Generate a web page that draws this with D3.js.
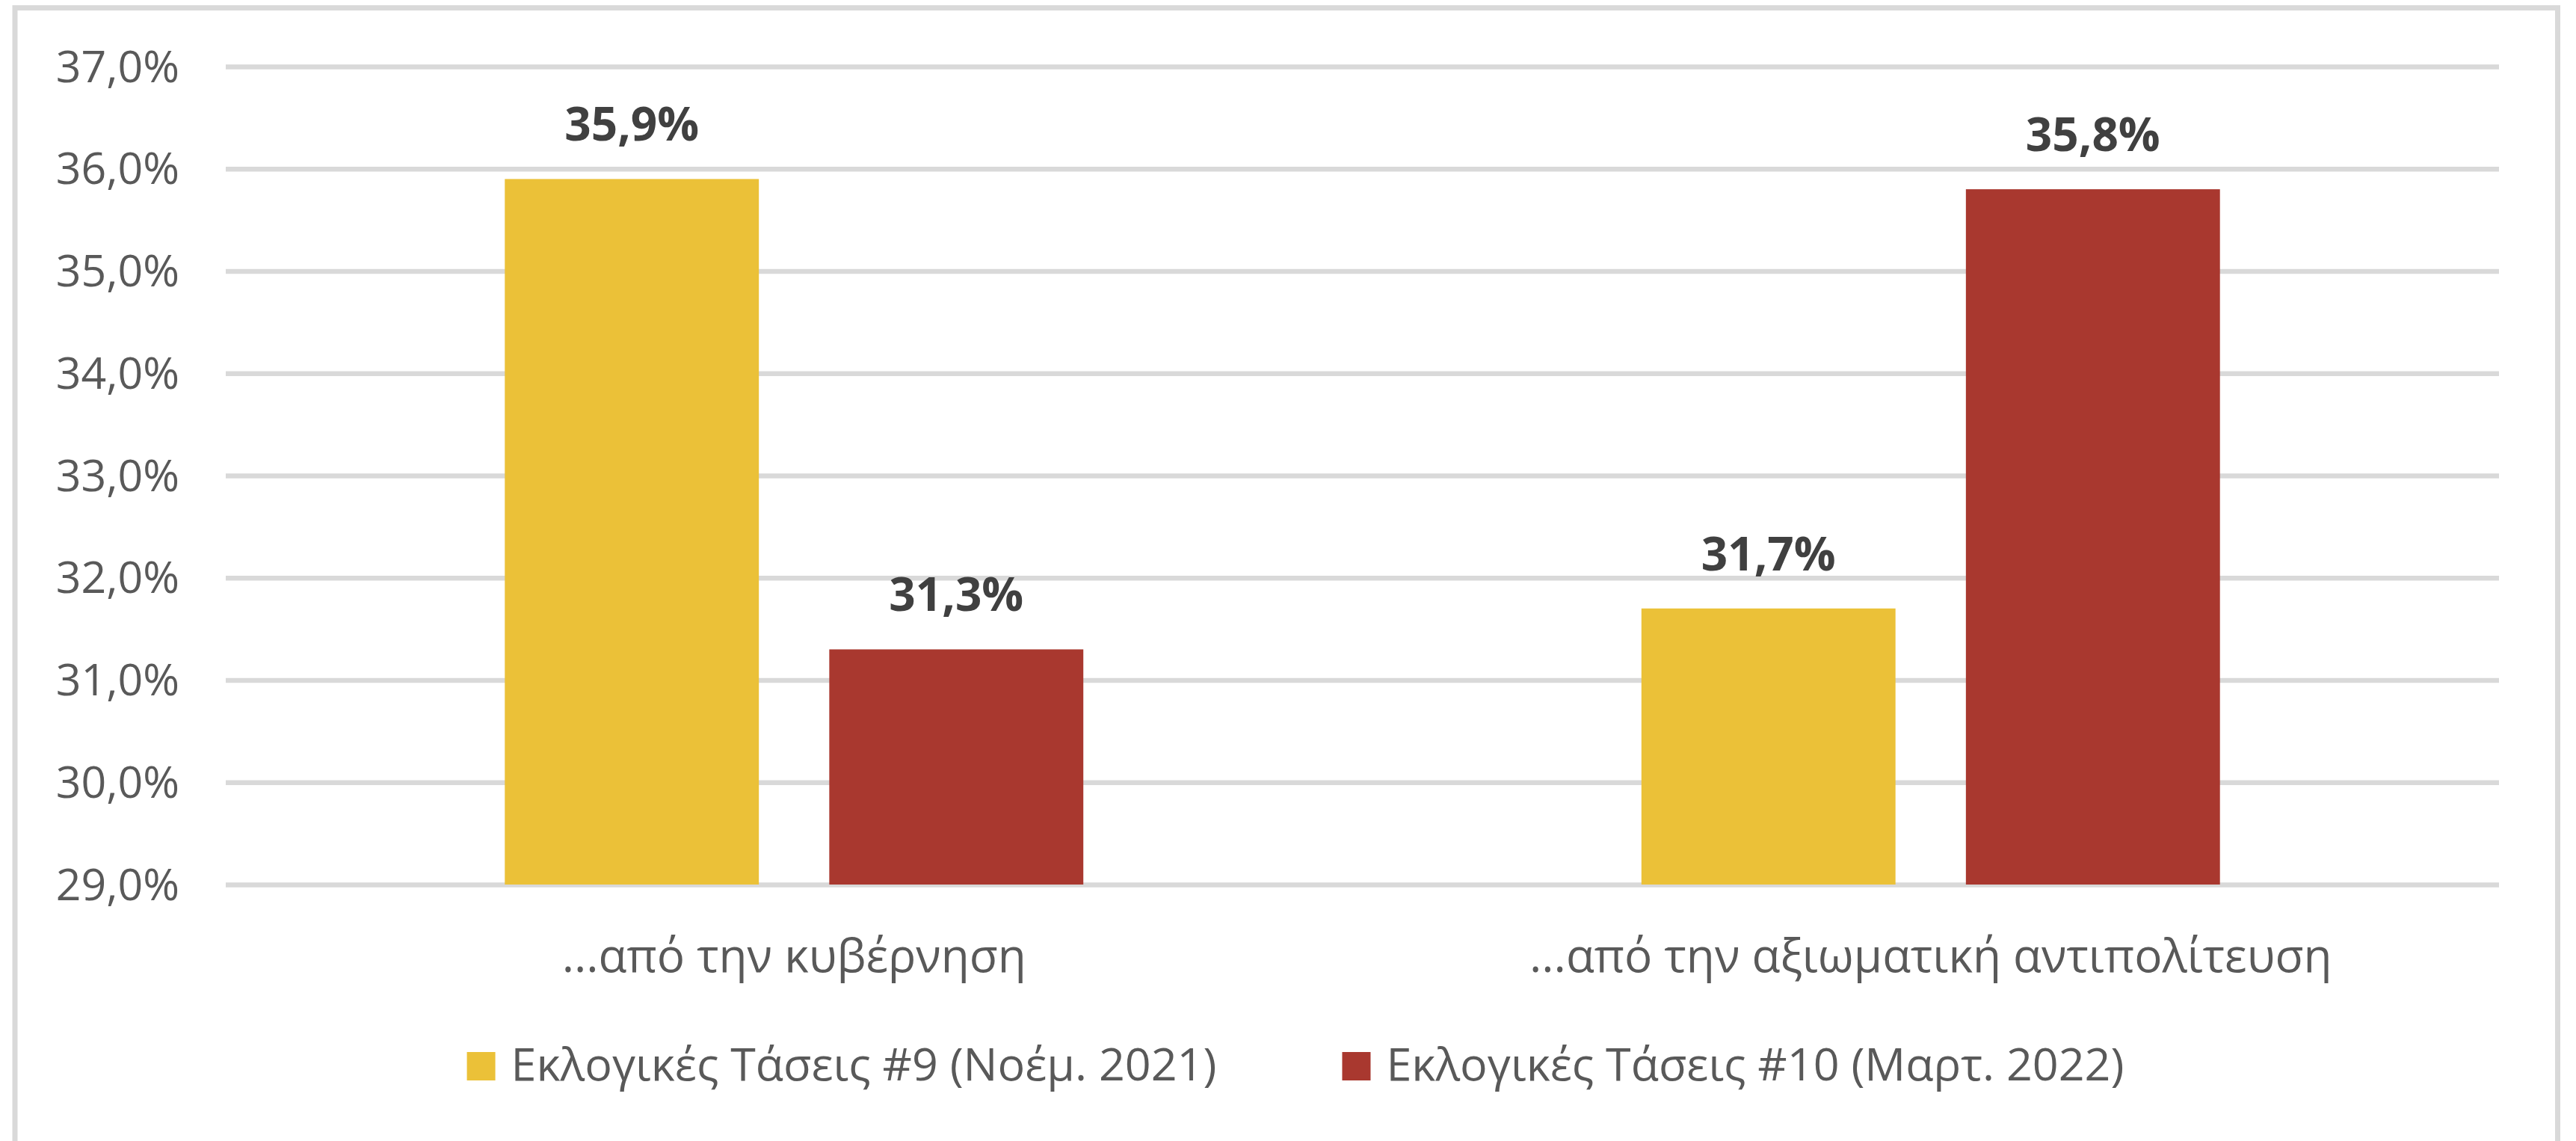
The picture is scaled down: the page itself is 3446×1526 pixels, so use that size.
<!DOCTYPE html>
<html>
<head>
<meta charset="utf-8">
<script src="https://cdn.jsdelivr.net/npm/d3@7"></script>
<style>
  html, body { margin: 0; padding: 0; background: #fff; }
  text { font-family: "Open Sans", "Noto Sans", sans-serif; }
</style>
</head>
<body>
<div id="chart"></div>
<script>
const categories = ["...από την κυβέρνηση", "...από την αξιωματική αντιπολίτευση"]
const seriesNames = ["Εκλογικές Τάσεις #9 (Νοέμ. 2021)", "Εκλογικές Τάσεις #10 (Μαρτ. 2022)"]
const nov2021 = [35.9, 31.7]
const mar2022 = [31.3, 35.8]
const yTicks = [29, 30, 31, 32, 33, 34, 35, 36, 37]

const width = 3446
const height = 1526
const margin = { left: 302, right: 103, top: 89, bottom: 343 }
const colors = ["#EBC138", "#A9382F"]

const locale = d3.formatLocale({ decimal: ",", thousands: ".", grouping: [3], currency: ["", "€"] })
const fmt = d => locale.format(".1f")(d) + "%"

const svg = d3.select("#chart")
    .append("svg")
    .attr("width", width)
    .attr("height", height)
    .style("display", "block")

// outer frame
svg.append("rect")
    .attr("x", 20)
    .attr("y", 10.5)
    .attr("width", 3401.5)
    .attr("height", 1650)
    .attr("fill", "#fff")
    .attr("stroke", "#d9d9d9")
    .attr("stroke-width", 7)

const y = d3.scaleLinear()
    .domain([29, 37])
    .range([height - margin.bottom, margin.top])

const x0 = d3.scaleBand()
    .domain(categories)
    .range([margin.left, width - margin.right])
    .padding(0)

const x1 = d3.scaleBand()
    .domain(seriesNames)
    .range([0, x0.bandwidth()])
    .paddingInner(0.217)
    .paddingOuter(0.86)

// gridlines + tick labels
const yAxis = svg.append("g")
    .attr("transform", `translate(${margin.left},0)`)
    .call(d3.axisLeft(y)
        .tickValues(yTicks)
        .tickSize(-(width - margin.left - margin.right))
        .tickPadding(62)
        .tickFormat(fmt))

yAxis.select(".domain").remove()
yAxis.selectAll(".tick line")
    .attr("stroke", "#d9d9d9")
    .attr("stroke-width", 6.7)
yAxis.selectAll(".tick text")
    .attr("fill", "#595959")
    .attr("dy", "0.34em")
    .style("font-size", "59px")

// bars
const rows = categories.map((c, i) => ({ cat: c, values: [nov2021[i], mar2022[i]] }))

const groups = svg.selectAll("g.group")
    .data(rows)
    .join("g")
    .attr("class", "group")
    .attr("transform", d => `translate(${x0(d.cat)},0)`)

groups.selectAll("rect")
    .data(d => d.values.map((v, j) => ({ name: seriesNames[j], value: v, j })))
    .join("rect")
    .attr("x", d => x1(d.name))
    .attr("y", d => y(d.value))
    .attr("width", x1.bandwidth())
    .attr("height", d => y(29) - y(d.value))
    .attr("fill", d => colors[d.j])

groups.selectAll("text.val")
    .data(d => d.values.map((v, j) => ({ name: seriesNames[j], value: v, j })))
    .join("text")
    .attr("class", "val")
    .attr("x", d => x1(d.name) + x1.bandwidth() / 2)
    .attr("y", d => y(d.value) - 51)
    .attr("text-anchor", "middle")
    .attr("fill", "#404040")
    .style("font-size", "62px")
    .style("font-weight", "bold")
    .text(d => fmt(d.value))

// category labels
svg.selectAll("text.cat")
    .data(categories)
    .join("text")
    .attr("class", "cat")
    .attr("x", d => x0(d) + x0.bandwidth() / 2)
    .attr("y", 1300)
    .attr("text-anchor", "middle")
    .attr("fill", "#595959")
    .style("font-size", "62px")
    .text(d => d)

// legend
const legend = svg.append("g")
const items = legend.selectAll("g")
    .data(seriesNames)
    .join("g")

items.append("rect")
    .attr("width", 38)
    .attr("height", 38)
    .attr("y", 1407)
    .attr("fill", (_, i) => colors[i])

items.append("text")
    .attr("x", 59)
    .attr("y", 1445)
    .attr("fill", "#595959")
    .style("font-size", "61px")
    .text(d => d)

let offset = 0
const widths = []
items.each(function () {
    widths.push(59 + d3.select(this).select("text").node().getComputedTextLength())
})
const gap = 168
const total = d3.sum(widths) + gap * (widths.length - 1)
let start = 1733 - total / 2
items.attr("transform", (_, i) => {
    const t = `translate(${start + offset},0)`
    offset += widths[i] + gap
    return t
})
</script>
</body>
</html>
